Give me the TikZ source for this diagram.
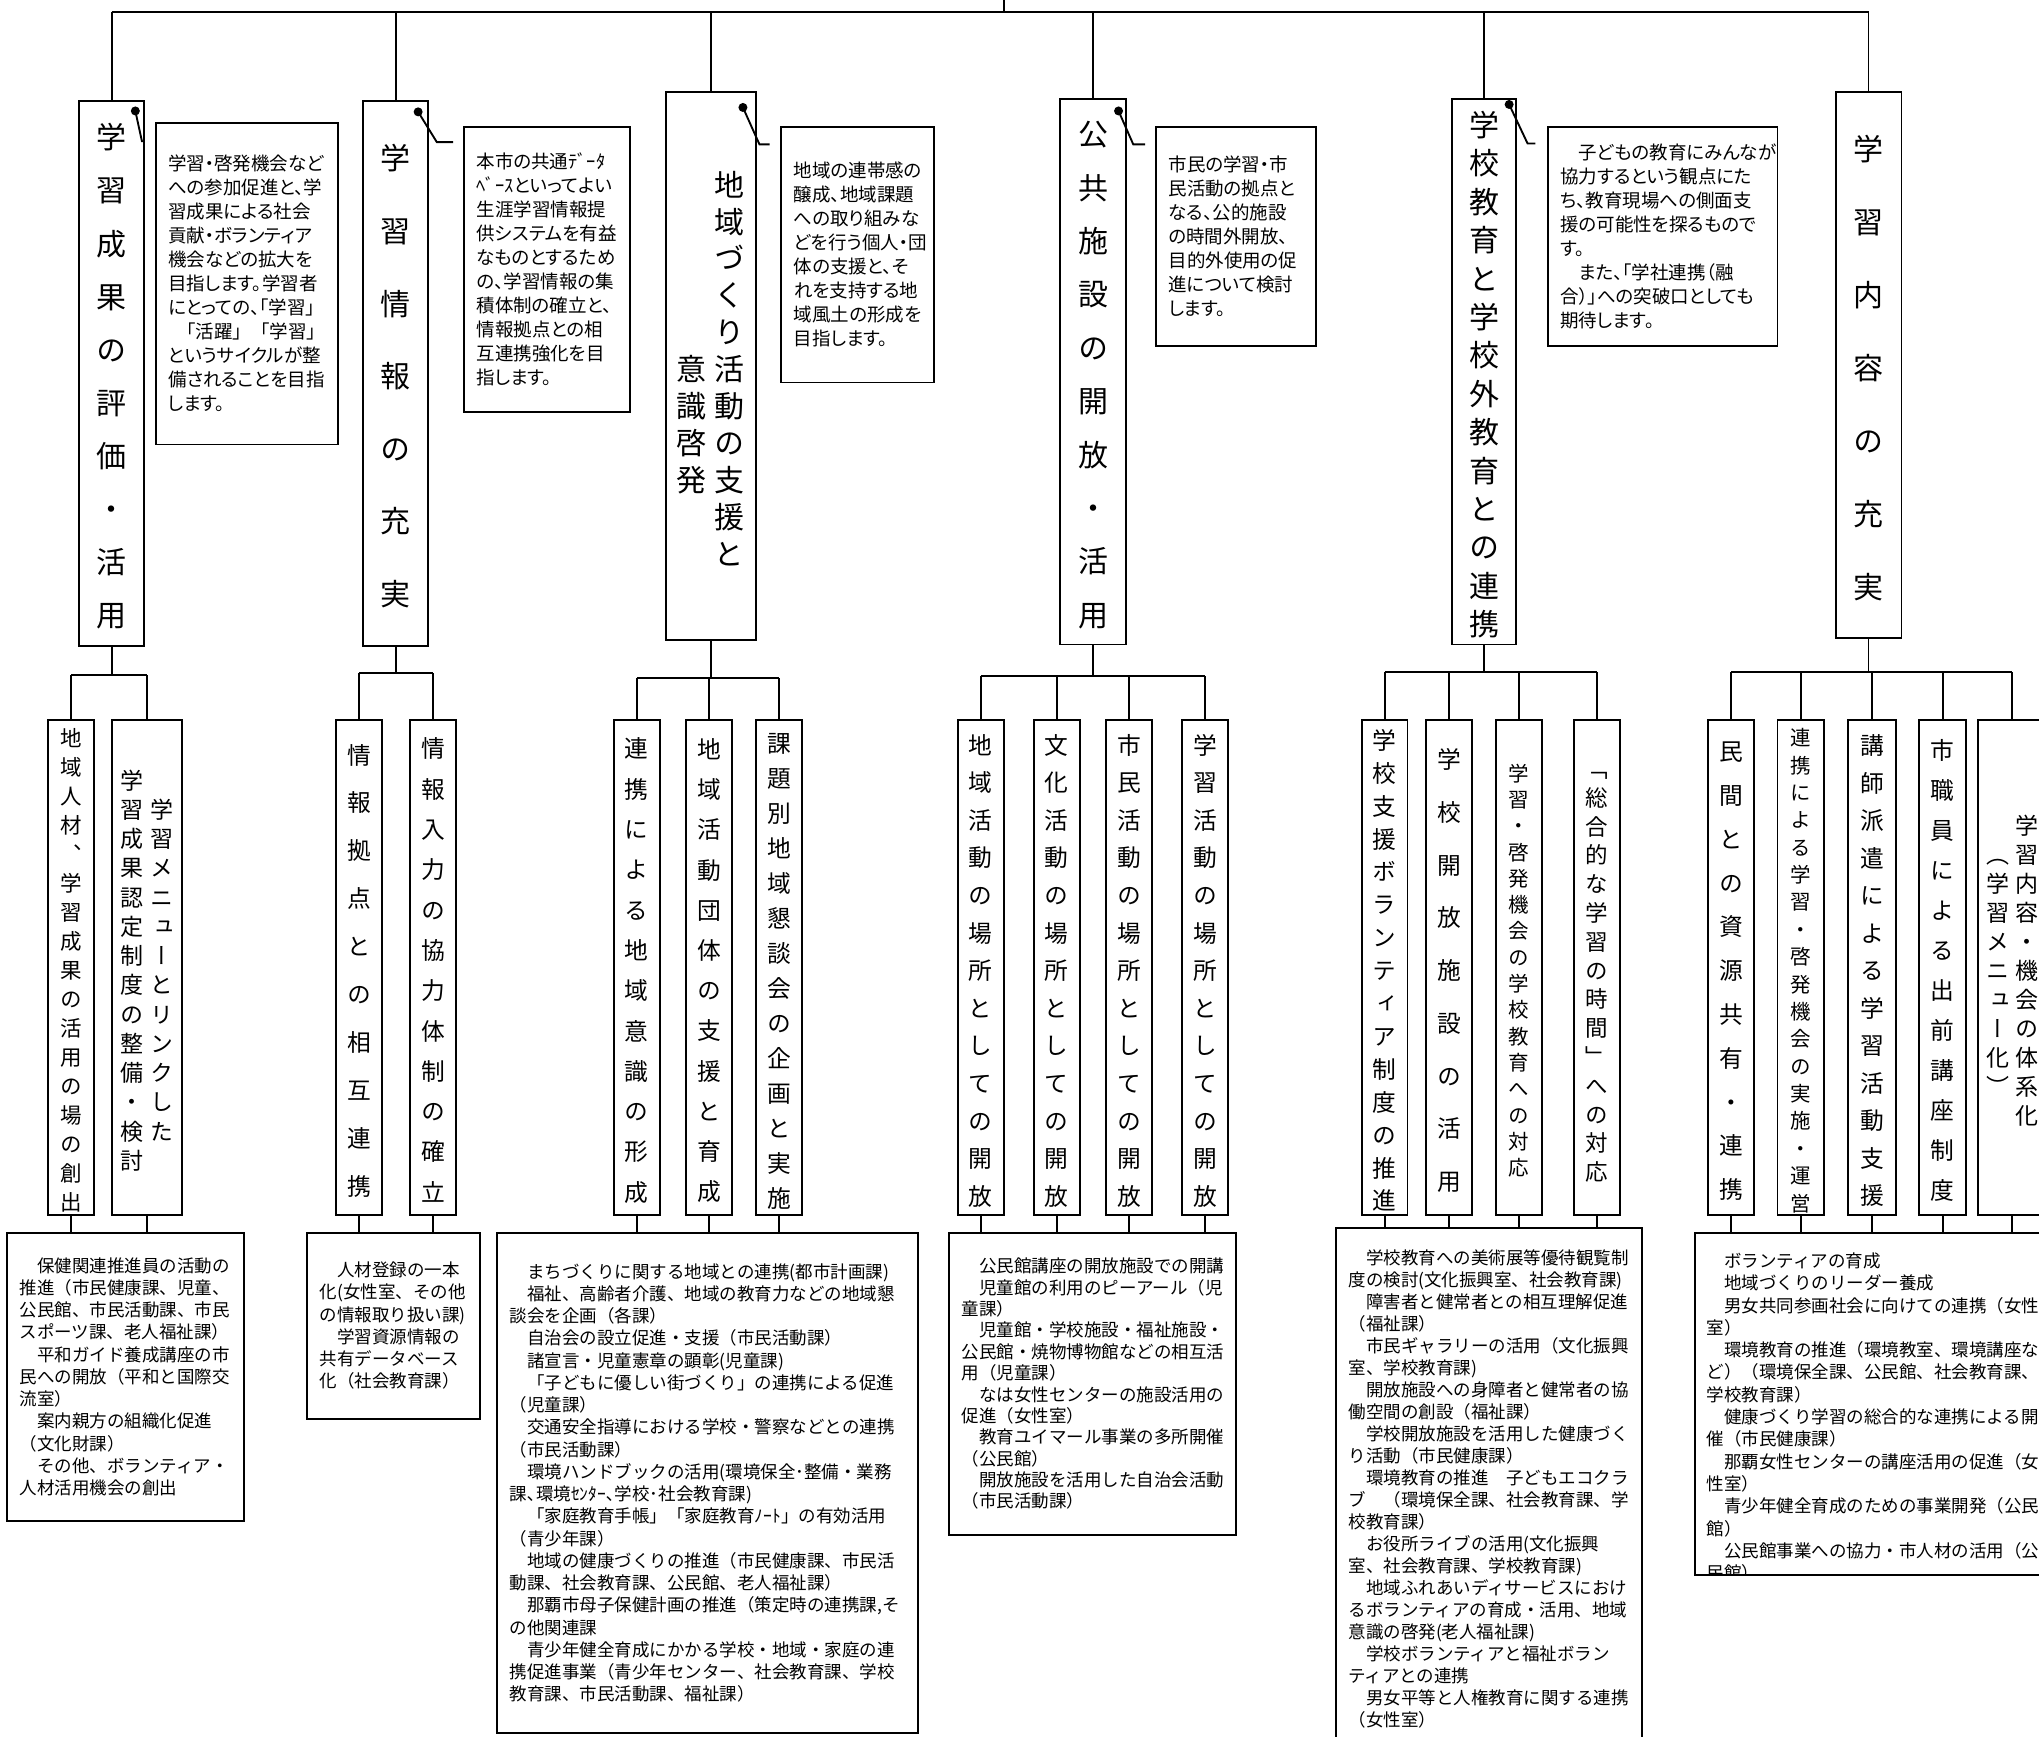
\documentclass[tikz,border=0pt]{standalone}
\usepackage{fontspec}
\setmainfont{Noto Sans CJK JP}
\newfontfamily\jp{Noto Sans CJK JP}
\newfontfamily\pjp[RawFeature=+palt]{Noto Sans CJK JP}
\newfontfamily\vjp[RawFeature=+vert]{Noto Sans CJK JP}
\makeatletter
\def\vt#1{\vt@a#1\vt@end}
\def\vt@a#1#2\vt@end{#1\ifx\relax#2\relax\expandafter\@gobble\else\expandafter\@firstofone\fi{\\\vt@a#2\vt@end}}
\makeatother
\newcommand{\vcol}[1]{\raisebox{\dimexpr0.2\baselineskip-0.38em-1.2pt\relax}[\height][\depth]{\begin{tabular}[c]{@{}c@{}}\vt{#1}\end{tabular}}}

\begin{document}
\begin{tikzpicture}[x=0.4pt, y=-0.4pt, line width=0.75pt,
  vbox/.style 2 args={draw, inner sep=0pt, minimum width=#1*0.4pt, minimum height=#2*0.4pt},
  vfont/.style 2 args={font=\vjp\fontsize{#1}{#2}\selectfont},
  aim/.style 2 args={draw, inner xsep=5pt, inner ysep=0pt, align=left, text width=#1, minimum height=#2*0.4pt, font=\pjp\fontsize{7.4}{9.6}\selectfont},
  note/.style n args={3}{draw, inner xsep=5pt, inner ysep=0pt, align=left, text width=#1, minimum height=#2*0.4pt, font=\jp\fontsize{7}{#3}\selectfont}]
\useasboundingbox (0,0) rectangle (2039,1737);
\clip (0,0) rectangle (2039,1737);

\node[vbox={64.6}{545.6}, vfont={12}{21.24}] (h1) at (111.7,373.4) {\vcol{学習成果の評価・活用}};
\node[vbox={64.7}{545.6}, vfont={12}{29.04}] (h2) at (395.75,373.4) {\vcol{学習情報の充実}};
\node[vbox={90}{547.7}, vfont={12}{14.76}] (h3) at (710.7,366.25) {\raisebox{-1.5\baselineskip}{\vcol{意識啓発}}\hspace{3.4pt}\vcol{地域づくり活動の支援と}};
\node[vbox={65.6}{545.6}, vfont={12}{21.36}] (h4) at (1093,371.7) {\vcol{公共施設の開放・活用}};
\node[vbox={64.2}{545.6}, vfont={12}{15.36}] (h5) at (1484,371.7) {\vcol{学校教育と学校外教育との連携}};
\node[vbox={65.9}{546}, vfont={12}{29.2}] (h6) at (1868.5,365.4) {\vcol{学習内容の充実}};

\coordinate (root) at (1004,0);
\coordinate (bus) at (1004,12);
\draw (root) -- (bus);
\draw (h1.north |- bus) -- (h6.north |- bus);
\foreach \n in {h1,h2,h3,h4,h5,h6} \draw (\n.north) -- (\n.north |- bus);

\node[aim={62.84pt}{321.8}] (t1) at (246.75,283.6) {学習・啓発機会など\\への参加促進と、学\\習成果による社会\\貢献・ボランティア\\機会などの拡大を\\目指します。学習者\\にとっての、「学習」\\　「活躍」　「学習」\\というサイクルが整\\備されることを目指\\します。};
\node[aim={56.24pt}{285.8}] (t2) at (546.9,269.5) {本市の共通ﾃﾞｰﾀ\\ﾍﾞｰｽといってよい\\生涯学習情報提\\供システムを有益\\なものとするため\\の、学習情報の集\\積体制の確立と、\\情報拠点との相\\互連携強化を目\\指します。};
\node[aim={51pt}{255.9}] (t3) at (857.65,254.55) {地域の連帯感の\\醸成、地域課題\\への取り組みな\\どを行う個人・団\\体の支援と、そ\\れを支持する地\\域風土の形成を\\目指します。};
\node[aim={53.92pt}{219.5}] (t4) at (1236,236.35) {市民の学習・市\\民活動の拠点と\\なる、公的施設\\の時間外開放、\\目的外使用の促\\進について検討\\します。};
\node[aim={81.92pt}{219.5}] (t5) at (1662.6,236.35) {　子どもの教育にみんなが\\協力するという観点にた\\ち、教育現場への側面支\\援の可能性を探るもので\\す。\\　また、「学社連携（融\\合）」への突破口としても\\期待します。};

\coordinate (d1) at ([shift={(-9.6,11.3)}]h1.north east);
\coordinate (d2) at ([shift={(-10.9,12.2)}]h2.north east);
\coordinate (d3) at ([shift={(-13.7,16)}]h3.north east);
\coordinate (d4) at ([shift={(-8.2,13)}]h4.north east);
\coordinate (d5) at ([shift={(-7.9,6.5)}]h5.north east);
\foreach \n in {d1,d2,d3,d4,d5} \fill (\n) circle[radius=1.8pt];
\draw (d1) -- ++(6.6,30.3) coordinate (k1) -- ++(3,0) coordinate (e1);
\draw (d2) -- ++(18.7,30.3) coordinate (k2) -- ++(16.4,0) coordinate (e2);
\draw (d3) -- ++(16.5,36.9) coordinate (k3) -- ++(10.1,0) coordinate (e3);
\draw (d4) -- ++(14.7,33.4) coordinate (k4) -- ++(11.9,0) coordinate (e4);
\draw (d5) -- ++(18.4,39) coordinate (k5) -- ++(7.9,0) coordinate (e5);

\node[vbox={46.4}{494.6}, vfont={8.6}{11.6}] (s11) at (71,967.6) {\vcol{地域人材、学習成果の活用の場の創出}};
\node[vbox={70}{494.6}, vfont={9.2}{11.7}] (s12) at (147,967.6) {\vcol{学習成果認定制度の整備・検討}\hspace{2.8pt}\vcol{学習メニューとリンクした}};
\node[vbox={46.4}{494.6}, vfont={9.5}{19.16}] (s21) at (358.9,967.6) {\vcol{情報拠点との相互連携}};
\node[vbox={46.4}{494.6}, vfont={9.5}{16.12}] (s22) at (433,967.6) {\vcol{情報入力の協力体制の確立}};
\node[vbox={46}{494.6}, vfont={9.5}{16.12}] (s31) at (636.8,967.6) {\vcol{連携による地域意識の形成}};
\node[vbox={46}{494.6}, vfont={9.5}{16.08}] (s32) at (709,967.6) {\vcol{地域活動団体の支援と育成}};
\node[vbox={46}{494.6}, vfont={9.5}{14}] (s33) at (779,967.6) {\vcol{課題別地域懇談会の企画と実施}};
\node[vbox={46}{494.6}, vfont={9.5}{15.04}] (s41) at (980.8,967.6) {\vcol{地域活動の場所としての開放}};
\node[vbox={46}{494.6}, vfont={9.5}{15.04}] (s42) at (1056.7,967.6) {\vcol{文化活動の場所としての開放}};
\node[vbox={46}{494.6}, vfont={9.5}{15.04}] (s43) at (1129,967.6) {\vcol{市民活動の場所としての開放}};
\node[vbox={46}{494.6}, vfont={9.5}{15.04}] (s44) at (1205,967.6) {\vcol{学習活動の場所としての開放}};
\node[vbox={45.8}{494.6}, vfont={9.5}{13.16}] (s51) at (1384.6,967.6) {\vcol{学校支援ボランティア制度の推進}};
\node[vbox={46.2}{494.6}, vfont={9.5}{21.08}] (s52) at (1448.9,967.6) {\vcol{学校開放施設の活用}};
\node[vbox={45.8}{494.6}, vfont={8.2}{10.52}] (s53) at (1518.9,967.6) {\vcol{学習・啓発機会の学校教育への対応}};
\node[vbox={46.2}{494.6}, vfont={9}{11.52}] (s54) at (1596.9,967.6) {\vcol{「総合的な学習の時間」への対応}};
\node[vbox={45.8}{494.6}, vfont={9.5}{17.52}] (s61) at (1731,967.6) {\vcol{民間との資源共有・連携}};
\node[vbox={46.7}{494.6}, vfont={8.2}{10.95}] (s62) at (1800.8,967.6) {\vcol{連携による学習・啓発機会の実施・運営}};
\node[vbox={48.6}{494.6}, vfont={9.5}{15}] (s63) at (1871.9,967.6) {\vcol{講師派遣による学習活動支援}};
\node[vbox={46.7}{494.6}, vfont={9.5}{16}] (s64) at (1942.7,967.6) {\vcol{市職員による出前講座制度}};
\node[vbox={69.3}{494.6}, vfont={9.2}{11.6}] (s65) at (2012.4,967.6) {\vcol{（学習メニュー化）}\hspace{2.1pt}\vcol{学習内容・機会の体系化}};

\node[note={84.68pt}{288.3}{8.9}] (b1) at (125.65,1376.85) {　保健関連推進員の活動の\\推進（市民健康課、児童、\\公民館、市民活動課、市民\\スポーツ課、老人福祉課）\\　平和ガイド養成講座の市\\民への開放（平和と国際交\\流室）\\　案内親方の組織化促進\\（文化財課）\\　その他、ボランティア・\\人材活用機会の創出};
\node[note={59.08pt}{186.3}{8.9}] (b2) at (393.65,1325.85) {　人材登録の一本\\化(女性室、その他\\の情報取り扱い課)\\　学習資源情報の\\共有データベース\\化（社会教育課）};
\node[note={158.4pt}{500.3}{8.9}] (b3) at (707.8,1482.85) {　まちづくりに関する地域との連携(都市計画課)\\　福祉、高齢者介護、地域の教育力などの地域懇\\談会を企画（各課）\\　自治会の設立促進・支援（市民活動課）\\　諸宣言・児童憲章の顕彰(児童課)\\　「子どもに優しい街づくり」の連携による促進\\（児童課）\\　交通安全指導における学校・警察などとの連携\\（市民活動課）\\　環境ハンドブックの活用(環境保全･整備・業務\\課､環境ｾﾝﾀｰ､学校･社会教育課)\\　「家庭教育手帳」「家庭教育ﾉｰﾄ」の有効活用\\（青少年課）\\　地域の健康づくりの推進（市民健康課、市民活\\動課、社会教育課、公民館、老人福祉課）\\　那覇市母子保健計画の推進（策定時の連携課,そ\\の他関連課\\　青少年健全育成にかかる学校・地域・家庭の連\\携促進事業（青少年センター、社会教育課、学校\\教育課、市民活動課、福祉課）};
\node[note={104.68pt}{302.3}{8.55}] (b4) at (1092.65,1383.85) {　公民館講座の開放施設での開講\\　児童館の利用のピーアール（児\\童課）\\　児童館・学校施設・福祉施設・\\公民館・焼物博物館などの相互活\\用（児童課）\\　なは女性センターの施設活用の\\促進（女性室）\\　教育ユイマール事業の多所開催\\（公民館）\\　開放施設を活用した自治会活動\\（市民活動課）};
\node[note={112.28pt}{521.4}{8.8}] (b5) at (1488.85,1489) {　学校教育への美術展等優待観覧制\\度の検討(文化振興室、社会教育課)\\　障害者と健常者との相互理解促進\\（福祉課）\\　市民ギャラリーの活用（文化振興\\室、学校教育課)\\　開放施設への身障者と健常者の協\\働空間の創設（福祉課）\\　学校開放施設を活用した健康づく\\り活動（市民健康課）\\　環境教育の推進　子どもエコクラ\\ブ　（環境保全課、社会教育課、学\\校教育課）\\　お役所ライブの活用(文化振興\\室、社会教育課、学校教育課)\\　地域ふれあいディサービスにおけ\\るボランティアの育成・活用、地域\\意識の啓発(老人福祉課)\\　学校ボランティアと福祉ボラン\\ティアとの連携\\　男女平等と人権教育に関する連携\\（女性室）};
\node[vbox={355}{342.3}] (b6) at (1872.5,1403.85) {};
\begin{scope}
\clip (b6.north west) rectangle (b6.south east);
\node[anchor=west, align=left, inner sep=0pt, font=\jp\fontsize{7}{8.92}\selectfont] (b6t) at (1706,1417) {　ボランティアの育成\\　地域づくりのリーダー養成\\　男女共同参画社会に向けての連携（女性\\室）\\　環境教育の推進（環境教室、環境講座な\\ど）（環境保全課、公民館、社会教育課、\\学校教育課）\\　健康づくり学習の総合的な連携による開\\催（市民健康課）\\　那覇女性センターの講座活用の促進（女\\性室）\\　青少年健全育成のための事業開発（公民\\館）\\　公民館事業への協力・市人材の活用（公\\民館）};
\end{scope}

\draw (h1.south) -- (h1.south |- 0,675) coordinate (j1);
\draw (s11.north |- j1) -- (s12.north |- j1);
\foreach \n in {s11,s12} {\draw (\n.north) -- (\n.north |- j1); \draw (\n.south) -- (\n.south |- b1.north);}
\draw (h2.south) -- (h2.south |- 0,673) coordinate (j2);
\draw (s21.north |- j2) -- (s22.north |- j2);
\foreach \n in {s21,s22} {\draw (\n.north) -- (\n.north |- j2); \draw (\n.south) -- (\n.south |- b2.north);}
\draw (h3.south) -- (h3.south |- 0,678) coordinate (j3);
\draw (s31.north |- j3) -- (s33.north |- j3);
\foreach \n in {s31,s32,s33} {\draw (\n.north) -- (\n.north |- j3); \draw (\n.south) -- (\n.south |- b3.north);}
\draw (h4.south) -- (h4.south |- 0,676) coordinate (j4);
\draw (s41.north |- j4) -- (s44.north |- j4);
\foreach \n in {s41,s42,s43,s44} {\draw (\n.north) -- (\n.north |- j4); \draw (\n.south) -- (\n.south |- b4.north);}
\draw (h5.south) -- (h5.south |- 0,672) coordinate (j5);
\draw (s51.north |- j5) -- (s54.north |- j5);
\foreach \n in {s51,s52,s53,s54} {\draw (\n.north) -- (\n.north |- j5); \draw (\n.south) -- (\n.south |- b5.north);}
\draw (h6.south) -- (h6.south |- 0,672) coordinate (j6);
\draw (s61.north |- j6) -- (s65.north |- j6);
\foreach \n in {s61,s62,s63,s64,s65} {\draw (\n.north) -- (\n.north |- j6); \draw (\n.south) -- (\n.south |- b6.north);}
\end{tikzpicture}
\end{document}
